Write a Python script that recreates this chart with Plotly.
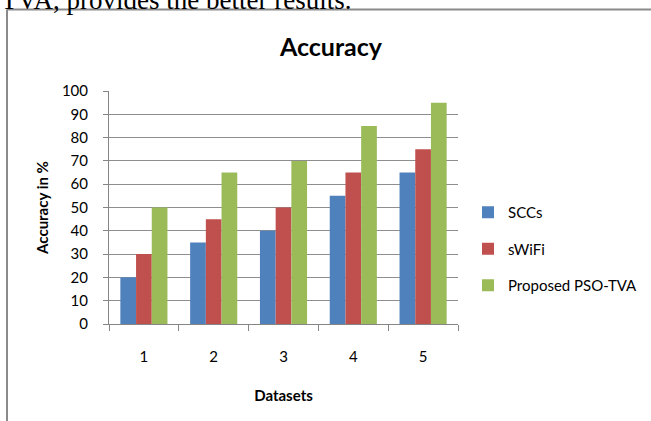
import plotly.graph_objects as go

categories = ["1", "2", "3", "4", "5"]
sccs = [20, 35, 40, 55, 65]
swifi = [30, 45, 50, 65, 75]
pso_tva = [50, 65, 70, 85, 95]
series_names = ["SCCs", "sWiFi", "Proposed PSO-TVA"]
colors = ["#4F81BD", "#C0504D", "#9BBB59"]
y_ticks = [0, 10, 20, 30, 40, 50, 60, 70, 80, 90, 100]

W, H = 651, 421
L, R, T, B = 109, 193, 91, 97
pw, ph = W - L - R, H - T - B

def px_x(p):
    return (p - L) / pw

def px_y(p):
    return 1 - (p - T) / ph

FONT = "Lato"

fig = go.Figure()
for name, vals, col in zip(series_names, [sccs, swifi, pso_tva], colors):
    fig.add_trace(go.Bar(x=categories, y=vals, name=name, marker_color=col,
                         marker_line_width=0, legendgroup=name))

fig.update_layout(
    width=W, height=H,
    margin=dict(l=L, r=R, t=T, b=B, autoexpand=False),
    paper_bgcolor="white", plot_bgcolor="white",
    bargap=0.325, bargroupgap=0,
    font=dict(family=FONT, size=15, color="#000000"),
    title=dict(text="<b>Accuracy</b>", x=px_x(331), xref="paper", xanchor="center",
               y=1 - 47 / H, yanchor="middle", font=dict(family=FONT, size=25, color="#000")),
    legend=dict(x=px_x(468), y=px_y(249), yanchor="middle", xanchor="left",
                font=dict(family=FONT, size=15), traceorder="grouped",
                tracegroupgap=14, itemwidth=30, bgcolor="rgba(0,0,0,0)"),
    xaxis=dict(
        title=dict(text="<b>Datasets</b>", font=dict(family=FONT, size=15), standoff=26),
        showline=True, linecolor="#868686", linewidth=1, automargin=False,
        ticks="outside", ticklen=6, tickcolor="#868686", tickson="boundaries",
        ticklabelstandoff=19, showgrid=False,
    ),
    yaxis=dict(
        title=dict(text="<b>Accuracy in %</b>", font=dict(family=FONT, size=15), standoff=9),
        range=[0, 100], tickvals=y_ticks, showline=True, linecolor="#868686", linewidth=1,
        ticks="outside", ticklen=5, tickcolor="#868686", ticklabelstandoff=12,
        showgrid=True, gridcolor="#8e8e8e", gridwidth=1, zeroline=False, automargin=False,
    ),
    shapes=[
        dict(type="line", xref="paper", yref="paper", x0=px_x(7), x1=px_x(700),
             y0=px_y(9.5), y1=px_y(9.5), line=dict(color="#8a8a8a", width=2)),
        dict(type="line", xref="paper", yref="paper", x0=px_x(7), x1=px_x(7),
             y0=px_y(9.5), y1=px_y(480), line=dict(color="#8a8a8a", width=2)),
    ],
    annotations=[
        dict(text="TVA, provides the better results.", xref="paper", yref="paper",
             x=px_x(-1), y=px_y(17), xanchor="left", yanchor="bottom", showarrow=False,
             font=dict(family="Liberation Serif", size=27, color="#000")),
    ],
)

fig.write_html("out.html", config={"displayModeBar": False},
               post_script="document.body.style.margin='0';")
